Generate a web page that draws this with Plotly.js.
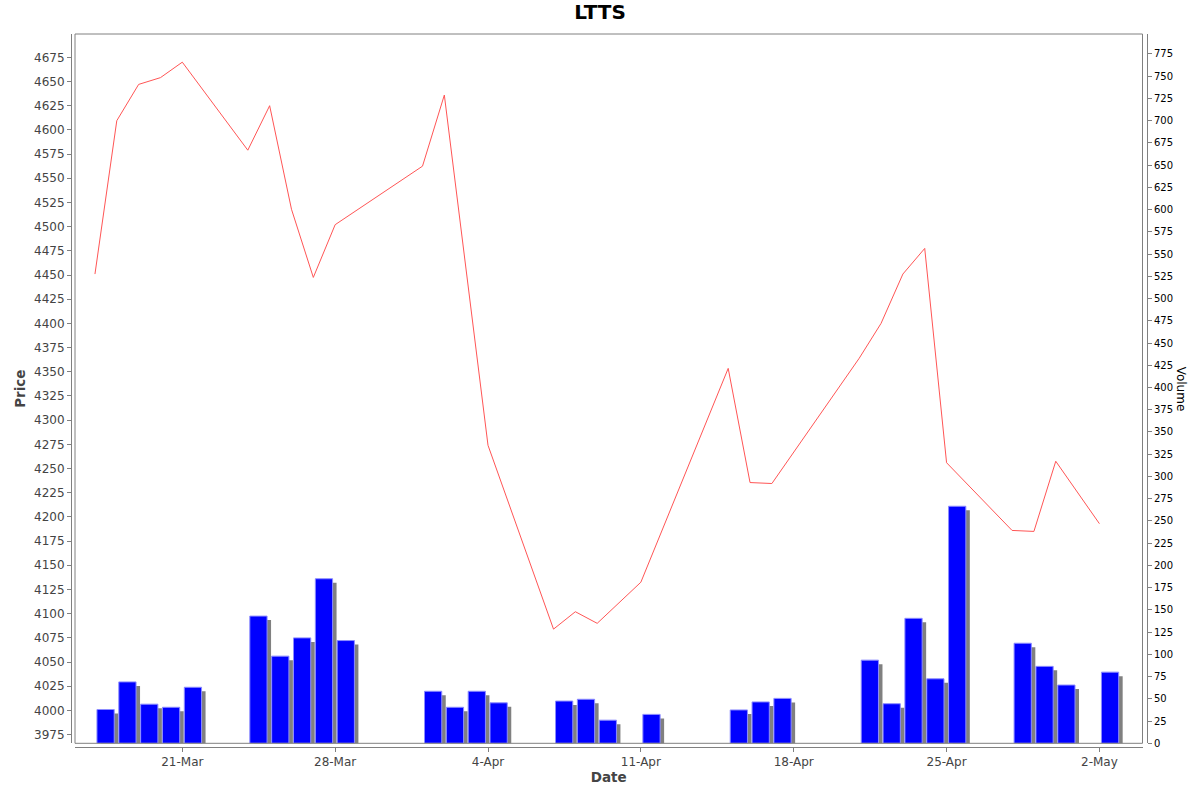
<!DOCTYPE html>
<html>
<head>
<meta charset="utf-8">
<script src="https://cdn.plot.ly/plotly-3.0.1.min.js"></script>
<style>
  html, body { margin: 0; padding: 0; background: #fff; }
  #chart { width: 1200px; height: 792px; }
</style>
</head>
<body>
<div id="chart"></div>
<script>
// price line (closing price per day)
const priceDates = [
  '2022-03-17', '2022-03-18', '2022-03-19', '2022-03-20', '2022-03-21',
  '2022-03-24', '2022-03-25', '2022-03-26', '2022-03-27', '2022-03-28',
  '2022-04-01', '2022-04-02', '2022-04-04',
  '2022-04-07', '2022-04-08', '2022-04-09', '2022-04-11',
  '2022-04-15', '2022-04-16', '2022-04-17',
  '2022-04-21', '2022-04-22', '2022-04-23', '2022-04-24', '2022-04-25',
  '2022-04-28', '2022-04-29', '2022-04-30', '2022-05-02'
];
const priceValues = [
  4451, 4609.5, 4647, 4654, 4670,
  4579, 4625, 4518, 4447.5, 4502,
  4562.5, 4636, 4274,
  4084, 4102, 4090, 4132.5,
  4353.5, 4235.5, 4234.5,
  4364, 4400, 4451, 4477.5, 4256,
  4186, 4185, 4257.5, 4193
];

// volume bars
const volumeDates = [
  '2022-03-17', '2022-03-18', '2022-03-19', '2022-03-20', '2022-03-21',
  '2022-03-24', '2022-03-25', '2022-03-26', '2022-03-27', '2022-03-28',
  '2022-04-01', '2022-04-02', '2022-04-03', '2022-04-04',
  '2022-04-07', '2022-04-08', '2022-04-09', '2022-04-11',
  '2022-04-15', '2022-04-16', '2022-04-17',
  '2022-04-21', '2022-04-22', '2022-04-23', '2022-04-24', '2022-04-25',
  '2022-04-28', '2022-04-29', '2022-04-30', '2022-05-02'
];
const volumeValues = [
  38, 69, 44, 40.5, 63,
  143, 98, 118.5, 185, 115.5,
  58.5, 40.5, 58.5, 45.5,
  47.5, 49.5, 26, 32.5,
  37.5, 46.5, 50.5,
  93.5, 44.5, 140.5, 72.5, 266.5,
  112.5, 86.5, 65.5, 80
];

const DAY = 86400000;
const font = 'DejaVu Sans, Verdana, sans-serif';

const shadow = {
  type: 'bar', x: volumeDates, y: volumeValues, yaxis: 'y2',
  base: -4.5, offset: 0.275 * DAY, width: 0.79 * DAY,
  marker: { color: '#808080', line: { width: 0 } },
  hoverinfo: 'skip', showlegend: false
};
const volume = {
  type: 'bar', x: volumeDates, y: volumeValues, yaxis: 'y2', name: 'Volume',
  offset: 0.092 * DAY, width: 0.79 * DAY,
  marker: { color: '#0000ff', line: { color: '#8c8cff', width: 1 } },
  showlegend: false
};
const price = {
  type: 'scatter', mode: 'lines', x: priceDates, y: priceValues, name: 'Price',
  line: { color: '#ff5555', width: 1 },
  showlegend: false
};

const layout = {
  width: 1200, height: 792,
  margin: { l: 71, r: 53, t: 34, b: 45 },
  paper_bgcolor: '#ffffff', plot_bgcolor: '#ffffff',
  font: { family: font, color: '#444444' },
  barmode: 'overlay',
  title: {
    text: '<b>LTTS</b>', xref: 'container', x: 0.5, xanchor: 'center',
    yref: 'container', y: 1 - 12 / 792, yanchor: 'middle',
    font: { family: font, size: 20, color: '#000000' }
  },
  xaxis: {
    type: 'date', domain: [4 / 1076, 1071.5 / 1076],
    anchor: 'free', position: 0,
    range: ['2022-03-16 02:04', '2022-05-03 23:21'],
    tick0: '2022-03-21', dtick: 7 * DAY, tickformat: '%-d-%b',
    ticks: 'outside', ticklen: 4, tickcolor: '#808080',
    showline: true, linecolor: '#808080', linewidth: 1,
    showgrid: false, zeroline: false,
    tickfont: { family: font, size: 12, color: '#444444' },
    title: { text: '<b>Date</b>', standoff: 3, font: { family: font, size: 13.5, color: '#444444' } }
  },
  yaxis: {
    domain: [3.7 / 713, 1], anchor: 'free', position: 0,
    range: [3966, 4699.1], tick0: 3975, dtick: 25,
    ticks: 'outside', ticklen: 4, tickcolor: '#808080',
    showline: true, linecolor: '#808080', linewidth: 1,
    showgrid: false, zeroline: false,
    tickfont: { family: font, size: 12, color: '#444444' },
    title: { text: '<b>Price</b>', standoff: 4, font: { family: font, size: 13.5, color: '#444444' } }
  },
  yaxis2: {
    overlaying: 'y', side: 'right', anchor: 'free', position: 1,
    range: [0, 797.4], tick0: 0, dtick: 25,
    ticks: 'outside', ticklen: 4, tickcolor: '#808080',
    showline: true, linecolor: '#808080', linewidth: 1,
    showgrid: false, zeroline: false,
    tickfont: { family: font, size: 10, color: '#000000' }
  },
  annotations: [{
    text: 'Volume', xref: 'paper', yref: 'y domain',
    x: 1, xanchor: 'center', xshift: 34, y: 0.5, yanchor: 'middle',
    textangle: 90, showarrow: false,
    font: { family: font, size: 12, color: '#000000' }
  }],
  shapes: [{
    type: 'rect', xref: 'x domain', yref: 'y domain',
    x0: 0, x1: 1, y0: 0, y1: 1,
    line: { color: '#808080', width: 1 }, layer: 'above'
  }]
};

Plotly.newPlot('chart', [shadow, volume, price], layout, { staticPlot: true, displayModeBar: false });
</script>
</body>
</html>
